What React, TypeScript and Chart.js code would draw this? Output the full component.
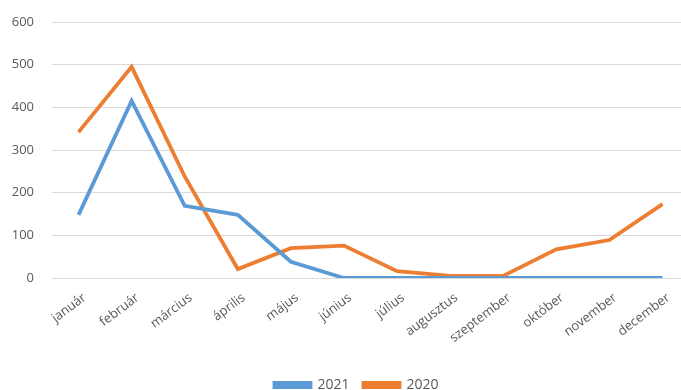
import React, { useEffect, useRef } from "react";
import { Chart, registerables } from "chart.js";

Chart.register(...registerables);

const months = [
  "január",
  "február",
  "március",
  "április",
  "május",
  "június",
  "július",
  "augusztus",
  "szeptember",
  "október",
  "november",
  "december",
];

const series2021 = [148, 415, 169, 148, 38, 0, 0, 0, 0, 0, 0, 0];
const series2020 = [342, 495, 238, 21, 70, 76, 16, 5, 5, 67, 89, 173];

const yTicks = [0, 100, 200, 300, 400, 500, 600];

const CANVAS_H = 402;
const PLOT_BOTTOM = 278;
const LEGEND_SHIFT = 12;

const legendShift = {
  id: "legendShift",
  afterLayout(chart: any) {
    const lg = chart.legend;
    if (lg) {
      lg.left += LEGEND_SHIFT;
      lg.right += LEGEND_SHIFT;
    }
  },
};

export default function App() {
  const ref = useRef<HTMLCanvasElement | null>(null);

  useEffect(() => {
    if (!ref.current) return;
    const font = { family: "'Open Sans', sans-serif", size: 13 };
    const chart = new Chart(ref.current, {
      type: "line",
      data: {
        labels: months,
        datasets: [
          {
            label: "2021",
            data: series2021,
            borderColor: "#5b9bd5",
            backgroundColor: "#5b9bd5",
            borderWidth: 3.8,
            pointRadius: 0,
            tension: 0,
            fill: false,
          },
          {
            label: "2020",
            data: series2020,
            borderColor: "#ed7d31",
            backgroundColor: "#ed7d31",
            borderWidth: 3.8,
            pointRadius: 0,
            tension: 0,
            fill: false,
          },
        ],
      },
      plugins: [legendShift],
      options: {
        responsive: false,
        animation: false,
        layout: { padding: { top: 22, right: 11, left: 0, bottom: 0 } },
        plugins: {
          legend: {
            position: "bottom",
            labels: {
              boxWidth: 36,
              boxHeight: 4,
              padding: 14,
              color: "#595959",
              font: { family: "'Open Sans', sans-serif", size: 14 },
            },
          },
          tooltip: { enabled: false },
        },
        scales: {
          x: {
            offset: true,
            grid: { display: false },
            border: { display: false },
            ticks: {
              color: "#595959",
              font,
              maxRotation: 37,
              minRotation: 37,
              autoSkip: false,
              padding: 4,
              labelOffset: 6,
            },
            afterFit: (scale: any) => {
              const lh = scale.chart.legend ? scale.chart.legend.height : 40;
              scale.height = CANVAS_H - lh - PLOT_BOTTOM;
            },
          },
          y: {
            min: 0,
            max: 600,
            afterBuildTicks: (scale: any) => {
              scale.ticks = yTicks.map((v) => ({ value: v }));
            },
            grid: { color: "#d9d9d9", lineWidth: 1, drawTicks: false },
            border: { display: false },
            ticks: {
              color: "#595959",
              font,
              padding: 18,
            },
            afterFit: (scale: any) => {
              scale.width = 52;
              scale.paddingTop = 0;
              scale.paddingBottom = 0;
            },
          },
        },
      },
    });
    return () => chart.destroy();
  }, []);

  return (
    <div
      style={{
        position: "fixed",
        left: 0,
        top: 0,
        width: 681,
        height: 390,
        overflow: "hidden",
        background: "#fff",
      }}
    >
      <canvas
        ref={ref}
        width={700}
        height={CANVAS_H}
        style={{ display: "block", width: 700, height: CANVAS_H }}
      />
    </div>
  );
}
